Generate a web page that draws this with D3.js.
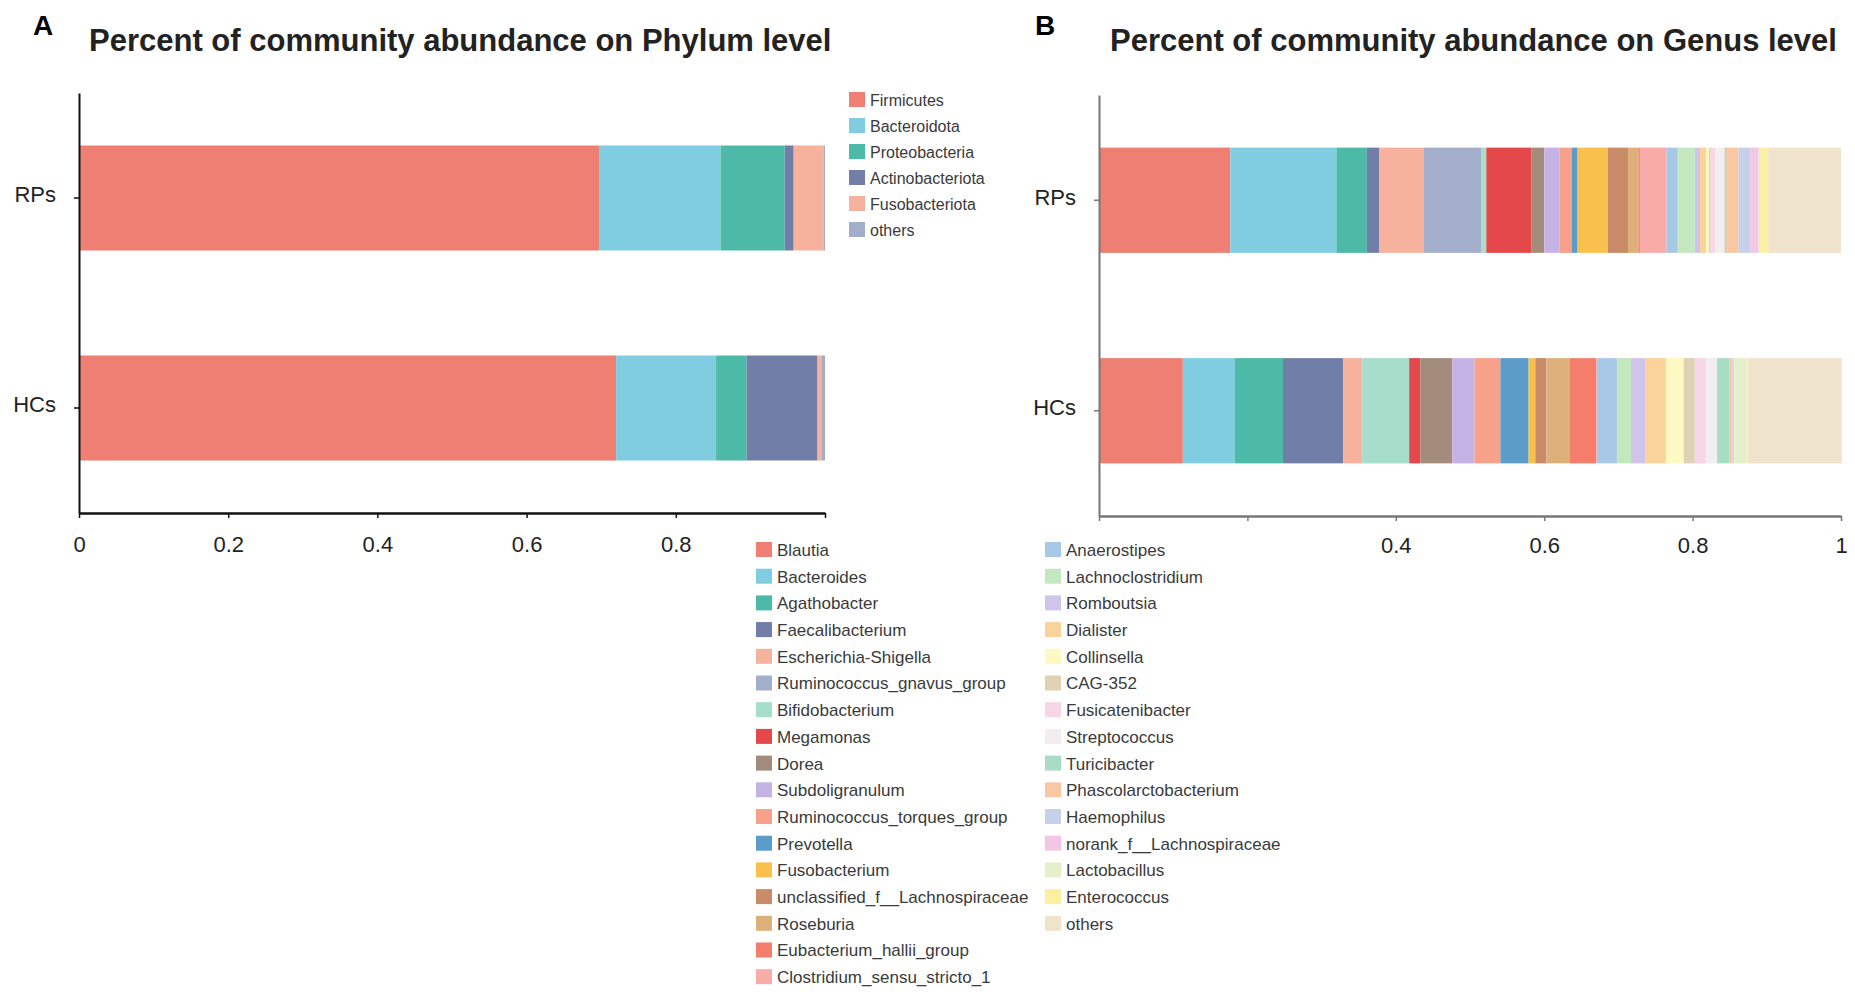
<!DOCTYPE html>
<html>
<head>
<meta charset="utf-8">
<script src="https://cdn.jsdelivr.net/npm/d3@7"></script>
<style>
  body { margin: 0; background: #fff; }
  text { font-family: "Liberation Sans", Arial, sans-serif; }
</style>
</head>
<body>
<div id="chart"></div>
<script>
// groups on the y axis
const GROUPS = ["RPs", "HCs"]

// panel A - phylum level
const PHYLA = ["Firmicutes", "Bacteroidota", "Proteobacteria", "Actinobacteriota", "Fusobacteriota", "others"]
const PHYLUM_RPS = [0.697, 0.163, 0.086, 0.012, 0.040, 0.002]
const PHYLUM_HCS = [0.720, 0.134, 0.041, 0.095, 0.005, 0.005]
const PHYLUM_COLORS = ["#EE7F72", "#80CDE1", "#4DBAA8", "#717FA8", "#F6B29C", "#A3AECB"]

// panel B - genus level
const GENERA = [
  "Blautia", "Bacteroides", "Agathobacter", "Faecalibacterium", "Escherichia-Shigella",
  "Ruminococcus_gnavus_group", "Bifidobacterium", "Megamonas", "Dorea", "Subdoligranulum",
  "Ruminococcus_torques_group", "Prevotella", "Fusobacterium", "unclassified_f__Lachnospiraceae",
  "Roseburia", "Eubacterium_hallii_group", "Clostridium_sensu_stricto_1",
  "Anaerostipes", "Lachnoclostridium", "Romboutsia", "Dialister", "Collinsella", "CAG-352",
  "Fusicatenibacter", "Streptococcus", "Turicibacter", "Phascolarctobacterium", "Haemophilus",
  "norank_f__Lachnospiraceae", "Lactobacillus", "Enterococcus", "others"
]
const GENUS_RPS = [
  0.177, 0.143, 0.041, 0.017, 0.060, 0.077, 0.007, 0.061, 0.017, 0.021,
  0.016, 0.008, 0.041, 0.027, 0.014, 0.002, 0.036,
  0.015, 0.023, 0.007, 0.008, 0.004, 0.002, 0.007, 0.012, 0.002, 0.017, 0.016,
  0.011, 0.002, 0.011, 0.098
]
const GENUS_HCS = [
  0.113, 0.070, 0.065, 0.081, 0.025, 0.001, 0.063, 0.015, 0.043, 0.030,
  0.035, 0.038, 0.009, 0.015, 0.031, 0.036, 0.001,
  0.027, 0.019, 0.019, 0.028, 0.024, 0.015, 0.015, 0.015, 0.017, 0.002, 0.002,
  0.002, 0.017, 0.002, 0.126
]
const GENUS_COLORS = [
  "#EE7F72", "#80CDE1", "#4DBAA8", "#717FA8", "#F6B29C", "#A3AECB", "#A6DDCB", "#E5484A",
  "#A38C7C", "#C5B3E6", "#F8A18A", "#5B9CC9", "#F9C04E", "#C98B68", "#DDB07A", "#F57D6C",
  "#F9ABA8", "#A7C8E6", "#C3E8BF", "#D1C4EA", "#FAD39A", "#FEF8C2", "#DFD1B4", "#F8D6E6",
  "#F2EEF0", "#A8DCC5", "#F8C8A4", "#C6D0E8", "#F2C6E4", "#E3F0C9", "#FCEFA0", "#F0E3CC"
]

// x axis ticks
const TICKS = [0, 0.2, 0.4, 0.6, 0.8, 1]
const TICK_LABELS_A = ["0", "0.2", "0.4", "0.6", "0.8", ""]
const TICK_LABELS_B = ["", "", "0.4", "0.6", "0.8", "1"]

const W = 1855, H = 992

const svg = d3.select("#chart").append("svg")
  .attr("width", W)
  .attr("height", H)

function drawPanel(p) {
  // turn the value lists into rows for d3.stack
  const rows = GROUPS.map((g, i) => {
    const row = { group: g }
    p.keys.forEach((k, j) => { row[k] = p.values[i][j] })
    return row
  })
  const series = d3.stack().keys(p.keys)(rows)

  const x = d3.scaleLinear().domain([0, 1]).range(p.xRange)
  const y = d3.scaleBand().domain(GROUPS).range(p.yRange)
    .paddingInner(0.5).paddingOuter(0.25)
  const color = d3.scaleOrdinal().domain(p.keys).range(p.colors)

  const g = svg.append("g")

  // stacked bars
  g.selectAll("g.layer")
    .data(series)
    .enter().append("g")
    .attr("class", "layer")
    .attr("fill", d => color(d.key))
    .selectAll("rect")
    .data(d => d)
    .enter().append("rect")
    .attr("x", d => x(d[0]))
    .attr("y", d => y(d.data.group))
    .attr("width", d => Math.max(0, x(d[1]) - x(d[0])))
    .attr("height", y.bandwidth())

  // axes
  const xAxis = d3.axisBottom(x)
    .tickValues(TICKS)
    .tickFormat((d, i) => p.tickLabels[i])
    .tickSize(5).tickSizeOuter(0).tickPadding(p.tickPad)
  const xg = g.append("g")
    .attr("transform", "translate(0," + p.yRange[1] + ")")
    .call(xAxis)
  xg.select(".domain").attr("stroke", p.axisColor).attr("stroke-width", 2.5)
  xg.selectAll(".tick line").attr("stroke", p.axisColor).attr("stroke-width", 1.5)
  xg.selectAll("text").attr("font-size", 22).attr("fill", "#222")

  const yAxis = d3.axisLeft(y).tickSize(5).tickSizeOuter(0).tickPadding(18)
  const yg = g.append("g")
    .attr("transform", "translate(" + p.xRange[0] + ",0)")
    .call(yAxis)
  yg.select(".domain").attr("stroke", p.axisColor).attr("stroke-width", 2)
  yg.selectAll(".tick line").attr("stroke", p.axisColor).attr("stroke-width", 1.5)
  yg.selectAll("text").attr("font-size", 22).attr("fill", "#222").attr("dy", "0.2em")

  // panel letter + title
  svg.append("text")
    .attr("x", p.letterX).attr("y", 35)
    .attr("font-size", 28).attr("font-weight", "bold")
    .text(p.letter)
  svg.append("text")
    .attr("x", p.titleX).attr("y", 51)
    .attr("font-size", 31).attr("font-weight", "bold")
    .attr("fill", "#222")
    .text(p.title)

  // legend, may be split into columns
  p.legend.forEach(col => {
    const items = p.keys.slice(col.from, col.to)
    const lg = svg.append("g")
      .selectAll("g")
      .data(items)
      .enter().append("g")
      .attr("transform", (d, i) => "translate(" + col.x + "," + (col.y + i * col.step) + ")")
    lg.append("rect")
      .attr("x", 0).attr("y", -8)
      .attr("width", 16).attr("height", 15)
      .attr("fill", d => color(d))
    lg.append("text")
      .attr("x", 21).attr("y", 0).attr("dy", "0.35em")
      .attr("font-size", p.legendFont).attr("fill", "#3a3a3a")
      .text(d => d)
  })
}

drawPanel({
  keys: PHYLA,
  values: [PHYLUM_RPS, PHYLUM_HCS],
  colors: PHYLUM_COLORS,
  xRange: [79, 825],
  yRange: [93, 513],
  tickLabels: TICK_LABELS_A,
  tickPad: 18,
  axisColor: "#111",
  letter: "A", letterX: 33,
  title: "Percent of community abundance on Phylum level", titleX: 89,
  legendFont: 16,
  legend: [{ from: 0, to: 6, x: 849, y: 100, step: 26 }]
})

drawPanel({
  keys: GENERA,
  values: [GENUS_RPS, GENUS_HCS],
  colors: GENUS_COLORS,
  xRange: [1099, 1841],
  yRange: [95, 516],
  tickLabels: TICK_LABELS_B,
  tickPad: 16,
  axisColor: "#777",
  letter: "B", letterX: 1035,
  title: "Percent of community abundance on Genus level", titleX: 1110,
  legendFont: 17,
  legend: [
    { from: 0, to: 17, x: 756, y: 550, step: 26.7 },
    { from: 17, to: 32, x: 1045, y: 550, step: 26.7 }
  ]
})
</script>
</body>
</html>
